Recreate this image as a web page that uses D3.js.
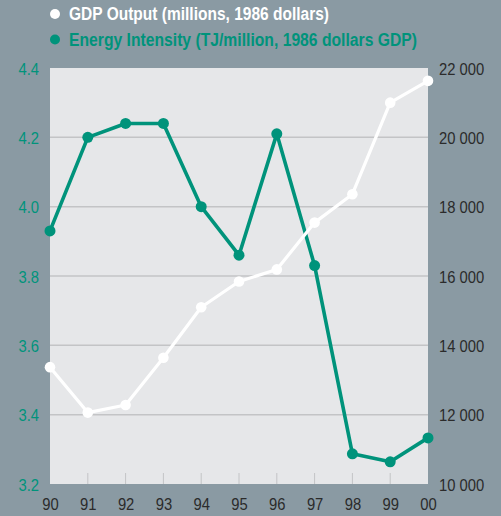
<!DOCTYPE html>
<html>
<head>
<meta charset="utf-8">
<script src="https://cdn.jsdelivr.net/npm/d3@7"></script>
<style>
  html, body { margin: 0; padding: 0; background: #8a9aa3; }
  svg { display: block; }
  text { font-family: "Liberation Sans", Arial, sans-serif; }
</style>
</head>
<body>
<svg id="chart" width="501" height="516"></svg>
<script>
// Years along the bottom axis
const years = ["90", "91", "92", "93", "94", "95", "96", "97", "98", "99", "00"];
// Energy intensity, TJ per million 1986 dollars of GDP (left axis)
const energyIntensity = [3.93, 4.20, 4.24, 4.24, 4.00, 3.86, 4.21, 3.83, 3.287, 3.264, 3.333];
// GDP output, millions of 1986 dollars (right axis)
const gdpOutput = [13370, 12060, 12280, 13640, 15100, 15840, 16190, 17540, 18360, 21000, 21630];
// Axis tick values
const leftTicks = [3.2, 3.4, 3.6, 3.8, 4.0, 4.2, 4.4];
const rightTicks = [10000, 12000, 14000, 16000, 18000, 20000, 22000];
// Legend entries
const legendLabels = ["GDP Output (millions, 1986 dollars)", "Energy Intensity (TJ/million, 1986 dollars GDP)"];

const bg = "#8a9aa3";
const panel = "#e6e7e9";
const teal = "#00937b";
const white = "#ffffff";
const dark = "#2b2b2b";
const narrow = "scale(0.87,1)";   // condensed look for the tick labels

const svg = d3.select("#chart");
const plot = { left: 50, right: 428, top: 68, bottom: 484 };

const x = d3.scalePoint().domain(years).range([plot.left, plot.right]);
const yLeft = d3.scaleLinear().domain([3.2, 4.4]).range([plot.bottom, plot.top]);
const yRight = d3.scaleLinear().domain([10000, 22000]).range([plot.bottom, plot.top]);

svg.append("rect").attr("width", 501).attr("height", 516).attr("fill", bg);

// Plot panel
svg.append("rect")
  .attr("x", plot.left).attr("y", plot.top)
  .attr("width", plot.right - plot.left).attr("height", plot.bottom - plot.top)
  .attr("fill", panel);

// Horizontal gridlines
svg.append("g")
  .selectAll("line")
  .data(leftTicks.filter(d => d > 3.2 && d < 4.4))
  .join("line")
  .attr("x1", plot.left).attr("x2", plot.right)
  .attr("y1", d => yLeft(d)).attr("y2", d => yLeft(d))
  .attr("stroke", "#c3c4c6").attr("stroke-width", 1.5);

// Small year ticks along the bottom of the panel
svg.append("g")
  .selectAll("line")
  .data(years.slice(1, -1))
  .join("line")
  .attr("x1", d => x(d)).attr("x2", d => x(d))
  .attr("y1", plot.bottom - 11).attr("y2", plot.bottom)
  .attr("stroke", "#c3c4c6").attr("stroke-width", 1);

// Left axis (energy intensity)
const leftAxis = svg.append("g")
  .attr("transform", `translate(${plot.left - 11},0)`)
  .call(d3.axisLeft(yLeft).tickValues(leftTicks).tickFormat(d3.format(".1f")).tickSize(0).tickPadding(0));
leftAxis.select(".domain").remove();
leftAxis.selectAll("text")
  .attr("fill", teal).attr("font-size", 17).attr("dy", "0.36em")
  .attr("transform", narrow)
  .style("font-family", "'Liberation Sans', Arial, sans-serif");

// Right axis (GDP), thousands separated by a space
const rightAxis = svg.append("g")
  .attr("transform", `translate(${plot.right + 11},0)`)
  .call(d3.axisRight(yRight).tickValues(rightTicks).tickFormat(d => d3.format(",")(d).replace(",", " ")).tickSize(0).tickPadding(0));
rightAxis.select(".domain").remove();
rightAxis.selectAll("text")
  .attr("fill", dark).attr("font-size", 17).attr("dy", "0.36em")
  .attr("transform", narrow)
  .style("font-family", "'Liberation Sans', Arial, sans-serif");

// Bottom axis (years)
const bottomAxis = svg.append("g")
  .attr("transform", `translate(0,${plot.bottom + 14})`)
  .call(d3.axisBottom(x).tickSize(0).tickPadding(0));
bottomAxis.select(".domain").remove();
bottomAxis.selectAll("text")
  .attr("fill", dark).attr("font-size", 17).attr("dy", "0.71em")
  .attr("transform", narrow)
  .style("font-family", "'Liberation Sans', Arial, sans-serif");

// Energy intensity series
const energyPts = years.map((yr, i) => [x(yr), yLeft(energyIntensity[i])]);
svg.append("path")
  .attr("d", d3.line()(energyPts))
  .attr("fill", "none").attr("stroke", teal).attr("stroke-width", 3.6)
  .attr("stroke-linejoin", "round");
svg.append("g").selectAll("circle")
  .data(energyPts).join("circle")
  .attr("cx", d => d[0]).attr("cy", d => d[1]).attr("r", 5.5).attr("fill", teal);

// GDP series
const gdpPts = years.map((yr, i) => [x(yr), yRight(gdpOutput[i])]);
svg.append("path")
  .attr("d", d3.line()(gdpPts))
  .attr("fill", "none").attr("stroke", white).attr("stroke-width", 3.2)
  .attr("stroke-linejoin", "round");
svg.append("g").selectAll("circle")
  .data(gdpPts).join("circle")
  .attr("cx", d => d[0]).attr("cy", d => d[1]).attr("r", 5.3).attr("fill", white);

// Legend
const legend = svg.append("g");
const legendColors = [white, teal];
const legendWidths = [260, 348];
legendLabels.forEach((label, i) => {
  const cy = 14 + i * 25.5;
  legend.append("circle").attr("cx", 55).attr("cy", cy).attr("r", 5).attr("fill", legendColors[i]);
  legend.append("text")
    .attr("x", 69).attr("y", cy).attr("dy", "0.36em")
    .attr("fill", legendColors[i]).attr("font-size", 18).attr("font-weight", "bold")
    .attr("textLength", legendWidths[i]).attr("lengthAdjust", "spacingAndGlyphs")
    .text(label);
});
</script>
</body>
</html>
